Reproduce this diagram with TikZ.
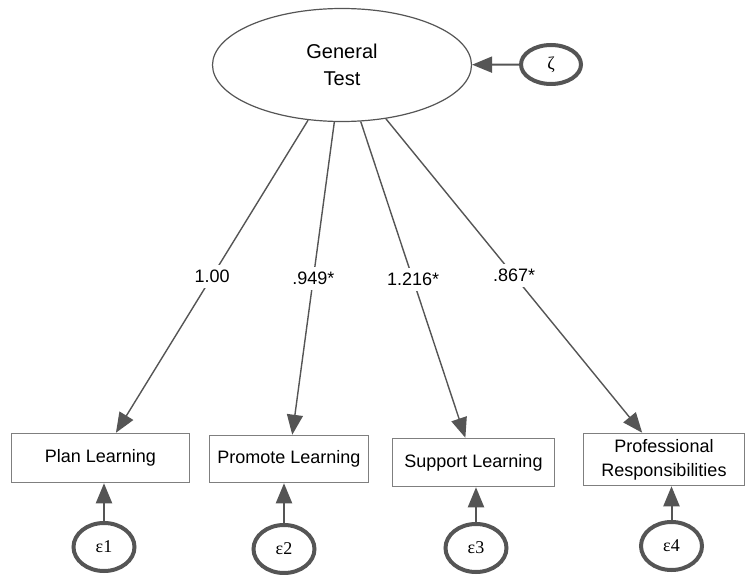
\documentclass[tikz,border=0pt]{standalone}
\usepackage{fontspec}
\setmainfont{Liberation Sans}
\newfontfamily\greekfont{Liberation Serif}
\usetikzlibrary{arrows.meta,shapes.geometric}
\definecolor{edgegray}{HTML}{555555}
\definecolor{boxgray}{HTML}{7F7F7F}
\begin{document}
\begin{tikzpicture}[x=1pt,y=-1pt,
    latent/.style={draw=edgegray,ellipse,line width=1.2pt,minimum width=259pt,minimum height=113pt,inner sep=0pt,align=center,font=\fontsize{20}{27}\selectfont},
    indicator/.style={draw=boxgray,rectangle,line width=1.5pt,inner sep=0pt,align=center,font=\fontsize{18}{24}\selectfont},
    errterm/.style={draw=edgegray,ellipse,line width=4pt,inner sep=0pt,minimum width=61pt,minimum height=48pt,font=\greekfont\fontsize{18}{20}\selectfont},
    loading/.style={draw=edgegray,line width=1.4pt,-{Triangle[length=20pt,width=16pt]}},
    errpath/.style={draw=edgegray,line width=2pt,-{Triangle[length=20pt,width=16pt]}},
    coef/.style={fill=white,inner xsep=3pt,inner ysep=5pt,font=\fontsize{18}{22}\selectfont}]
\useasboundingbox (0,0) rectangle (748,575);
% latent factor and its disturbance
\node[latent] (gt) at (342,65) {General\\Test};
\node[errterm,minimum width=60pt,minimum height=39pt] (zeta) at (551,64.5) {ζ};
\draw[errpath] (zeta) -- (gt);
% observed subscales
\node[indicator,minimum width=178pt,minimum height=49pt] (plan) at (100.5,458) {Plan Learning};
\node[indicator,minimum width=159pt,minimum height=47pt] (promote) at (289,459) {Promote Learning};
\node[indicator,minimum width=162pt,minimum height=48pt] (support) at (473.5,462.5) {Support Learning};
\node[indicator,minimum width=161pt,minimum height=52pt] (prof) at (664,459.5) {Professional\\Responsibilities};
% loadings
\draw[loading] (gt) -- (plan) node[coef,midway] {1.00};
\draw[loading] (gt) -- (promote) node[coef,midway] {.949*};
\draw[loading] (gt) -- (support) node[coef,midway] {1.216*};
\draw[loading] (gt) -- (prof) node[coef,midway] {.867*};
% residuals
\node[errterm] (e1) at (104,547) {ε1};
\node[errterm] (e2) at (284,549) {ε2};
\node[errterm] (e3) at (476,548) {ε3};
\node[errterm] (e4) at (671.5,546) {ε4};
\draw[errpath] (e1) -- (e1 |- plan.south);
\draw[errpath] (e2) -- (e2 |- promote.south);
\draw[errpath] (e3) -- (e3 |- support.south);
\draw[errpath] (e4) -- (e4 |- prof.south);
\end{tikzpicture}
\end{document}
